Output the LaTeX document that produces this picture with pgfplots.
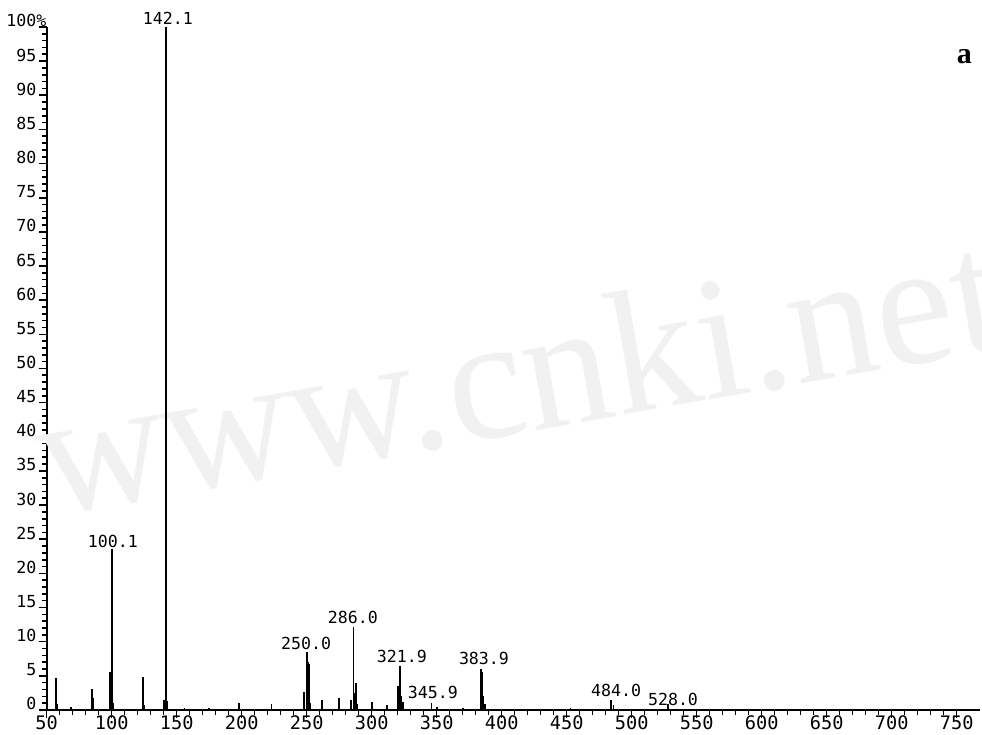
\documentclass[border=0pt]{standalone}
\usepackage{fontspec}
\setmainfont{DejaVu Sans Mono}
\newfontfamily\wmfont{Liberation Serif}
\newfontfamily\serifb{Liberation Serif}
\usepackage{pgfplots}
\usepackage{pgfplotstable}
\pgfplotsset{compat=1.18}
\definecolor{wm}{gray}{0.945}

\pgfplotstableread{
mz int
57 4.7
58 0.8
69 0.4
85 3.1
86 1.8
99 5.6
100.1 23.5
101 1.0
124 4.8
125 0.7
140 1.5
141 1.0
142.1 100
143 1.3
156 0.3
175 0.3
198 1.0
223 0.8
248 2.6
250 8.5
251 7.0
252 6.8
253 1.0
262 1.5
275 1.8
284 1.5
286 12.1
287 2.5
288 4.0
289 0.8
300 1.2
312 0.7
320 3.5
321 3.0
321.9 6.4
323 2.0
324 1.2
346 1.0
350 0.4
370 0.3
383.9 6.0
385 5.6
386 2.0
387 0.8
453 0.3
484 1.5
486 0.7
528 0.8
}\spec

\newcommand\lab{\fontsize{8.3}{10}\selectfont}

\begin{document}
\begin{tikzpicture}
\begin{axis}[
  scale only axis, width=466.7pt, height=341.5pt,
  xmin=50, xmax=768, ymin=0, ymax=100,
  axis x line*=bottom, axis y line*=left,
  axis line style={line width=1.1pt, black},
  xtick={50,100,...,750}, minor x tick num=4,
  ytick={0,5,...,100}, minor y tick num=4,
  yticklabels={0,5,10,15,20,25,30,35,40,45,50,55,60,65,70,75,80,85,90,95,100\rlap{\%}},
  tick align=outside, major tick length=4pt, minor tick length=2.5pt,
  every tick/.style={line width=0.8pt, black},
  xticklabel style={font=\fontsize{9.3}{10}\selectfont, yshift=4.5pt},
  yticklabel style={font=\lab, anchor=base east, inner sep=1pt},
  /pgf/number format/assume math mode=true,
  /pgf/number format/set thousands separator={},
  clip=false,
]
\node[anchor=base west, rotate=10, inner sep=0pt, overlay, text=wm] at (axis cs:51,28.3)
  {\wmfont\fontsize{88}{88}\selectfont www.cnki.net};
\addplot[ycomb, line width=0.9pt, black, mark=none] table[x=mz,y=int]{\spec};
\node[font=\lab] at (axis cs:101,24.7) {100.1};
\node[font=\lab] at (axis cs:143.3,101.3) {142.1};
\node[font=\lab] at (axis cs:249.5,9.8) {250.0};
\node[font=\lab] at (axis cs:285.6,13.5) {286.0};
\node[font=\lab] at (axis cs:323.3,7.8) {321.9};
\node[font=\lab] at (axis cs:347,2.5) {345.9};
\node[font=\lab] at (axis cs:386.4,7.5) {383.9};
\node[font=\lab] at (axis cs:488,2.9) {484.0};
\node[font=\lab] at (axis cs:531.8,1.6) {528.0};
\node[font=\serifb\bfseries\fontsize{15}{15}\selectfont] at (axis cs:756,95.6) {a};
\coordinate (bbsw) at (axis cs:14.1,-3.66);
\coordinate (bbne) at (axis cs:769.5,103.95);
\end{axis}
\pgfresetboundingbox
\path[use as bounding box] (bbsw) rectangle (bbne);
\end{tikzpicture}
\end{document}
